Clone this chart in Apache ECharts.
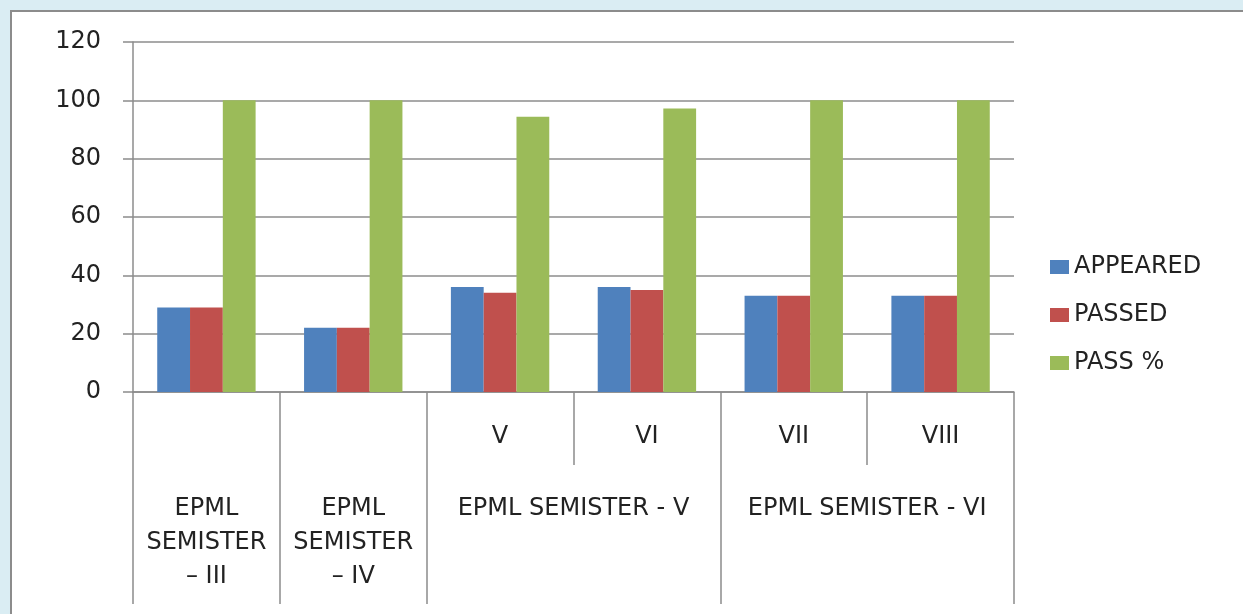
<!DOCTYPE html>
<html>
<head>
<meta charset="utf-8">
<script src="https://cdn.jsdelivr.net/npm/echarts@6/dist/echarts.min.js"></script>
<style>
  html, body { margin: 0; padding: 0; background: #daedf3; overflow: hidden; }
  #frame {
    position: absolute; left: 10px; top: 10px; width: 1250px; height: 620px;
    background: #fff; border: 2px solid #8c8c8c; box-sizing: border-box;
  }
  #pass_charts { position: absolute; left: 0; top: 0; width: 1243px; height: 614px; }
</style>
</head>
<body>
<div id="frame"></div>
<div id="pass_charts"></div>
<script>
// first level labels (semester number), one per bar group
const semesters = ['', '', 'V', 'VI', 'VII', 'VIII'];
// second level labels and how many groups each one covers
const groups = ['EPML\nSEMISTER\n– III', 'EPML\nSEMISTER\n– IV', 'EPML SEMISTER - V', 'EPML SEMISTER - VI'];
const groupSpans = [1, 1, 2, 2];

const appeared = [29, 22, 36, 36, 33, 33];
const passed = [29, 22, 34, 35, 33, 33];
const passPct = [100, 100, 94.4, 97.2, 100, 100];

const yTicks = { min: 0, max: 120, interval: 20 };

const lineColor = '#8c8c8c';
const textColor = '#222';
const font = 'DejaVu Sans';

// boundaries and centres of the second level cells, in group units
let groupEdges = [0];
let groupCenters = [];
groupSpans.forEach(span => {
  const start = groupEdges[groupEdges.length - 1];
  groupCenters.push(start + span / 2);
  groupEdges.push(start + span);
});

const chart = echarts.init(document.getElementById('pass_charts'));

const option = {
  animation: false,
  color: ['#4f81bd', '#c0504d', '#9bbb59'],
  grid: { left: 133, right: 229, top: 42, bottom: 222 },
  legend: {
    orient: 'vertical',
    left: 1045,
    top: 250,
    icon: 'rect',
    itemWidth: 19,
    itemHeight: 14,
    itemGap: 24,
    textStyle: { fontFamily: font, fontSize: 24, color: textColor, padding: [0, 0, 0, 0] },
    data: ['APPEARED', 'PASSED', 'PASS %']
  },
  xAxis: [
    {
      type: 'category',
      data: semesters,
      position: 'bottom',
      axisLine: { lineStyle: { color: lineColor, width: 1.5 } },
      axisTick: { show: true, interval: 0, length: 73, lineStyle: { color: lineColor, width: 1.5 } },
      axisLabel: { interval: 0, margin: 33, fontFamily: font, fontSize: 24, color: textColor }
    },
    {
      type: 'value',
      min: 0,
      max: semesters.length,
      position: 'bottom',
      splitLine: { show: false },
      axisLine: { show: false },
      axisTick: {
        show: true,
        customValues: groupEdges,
        length: 212,
        lineStyle: { color: lineColor, width: 1.5 }
      },
      axisLabel: {
        customValues: groupCenters,
        margin: 100,
        fontFamily: font,
        fontSize: 24,
        lineHeight: 34,
        color: textColor,
        formatter: (val) => groups[groupCenters.indexOf(val)] || ''
      }
    }
  ],
  yAxis: {
    type: 'value',
    min: yTicks.min,
    max: yTicks.max,
    interval: yTicks.interval,
    axisLine: { show: true, lineStyle: { color: lineColor, width: 1.5 } },
    axisTick: { show: true, length: 10, lineStyle: { color: lineColor, width: 1.5 } },
    splitLine: { show: true, lineStyle: { color: lineColor, width: 1.5 } },
    axisLabel: { margin: 32, fontFamily: font, fontSize: 24, color: textColor }
  },
  series: [
    { name: 'APPEARED', type: 'bar', xAxisIndex: 0, barGap: '0%', barCategoryGap: '33%', data: appeared },
    { name: 'PASSED', type: 'bar', xAxisIndex: 0, data: passed },
    { name: 'PASS %', type: 'bar', xAxisIndex: 0, data: passPct }
  ]
};

chart.setOption(option);
window.addEventListener('resize', () => {
  chart.resize();
});
</script>
</body>
</html>
